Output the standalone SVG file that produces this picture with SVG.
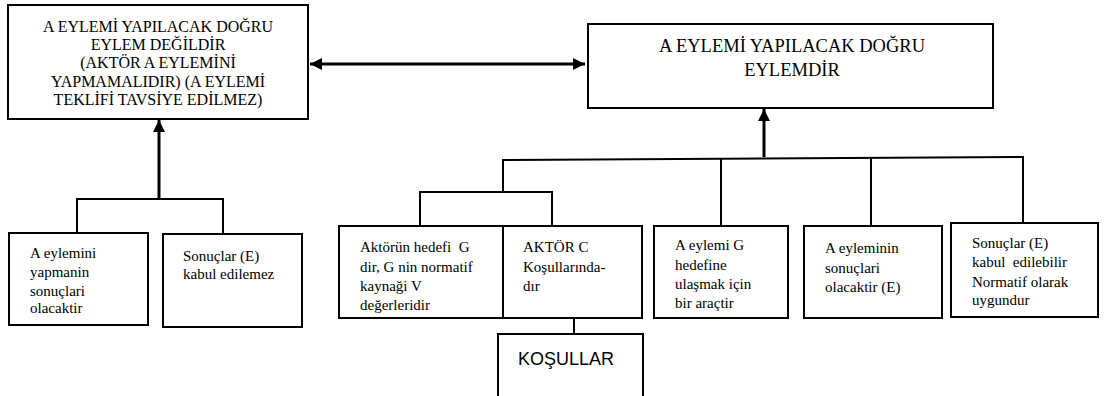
<svg xmlns="http://www.w3.org/2000/svg" width="1112" height="396" viewBox="0 0 1112 396">
<style>
.box{fill:#fff;stroke:#000;stroke-width:2}
.ln{fill:none;stroke:#000;stroke-width:2}
.th{fill:none;stroke:#000;stroke-width:3}
</style>
<defs>
<marker id="ah" viewBox="0 0 10 10" refX="10" refY="5" markerWidth="4.5" markerHeight="4" orient="auto-start-reverse" markerUnits="strokeWidth">
<path d="M0,0 L10,5 L0,10 Z" fill="#000"/>
</marker>
</defs>
<g id="connectors">
<line class="th" x1="310" y1="64" x2="585" y2="64" marker-start="url(#ah)" marker-end="url(#ah)"/>
<line class="th" x1="159" y1="199" x2="159" y2="120" marker-end="url(#ah)"/>
<polyline class="ln" points="77,233 77,199 223,199 223,233"/>
<line class="th" x1="764" y1="157" x2="764" y2="109" marker-end="url(#ah)"/>
<polyline class="ln" points="503,192 503,160 1023,157 1023,223"/>
<line class="ln" x1="721" y1="158" x2="721" y2="226"/>
<line class="ln" x1="871" y1="157" x2="871" y2="226"/>
<polyline class="ln" points="420,226 420,192 552,192 552,226"/>
<line class="ln" x1="574" y1="318" x2="574" y2="334"/>
</g>
<g font-family="Liberation Serif, 'Times New Roman', serif" fill="#000">
<g id="node-top-left" font-size="16" text-anchor="middle">
<rect class="box" x="8" y="5" width="300" height="114"/>
<text x="158" y="32">A EYLEMİ YAPILACAK DOĞRU</text>
<text x="158" y="50">EYLEM DEĞİLDİR</text>
<text x="158" y="68">(AKTÖR A EYLEMİNİ</text>
<text x="158" y="87">YAPMAMALIDIR) (A EYLEMİ</text>
<text x="158" y="105">TEKLİFİ TAVSİYE EDİLMEZ)</text>
</g>
<g id="node-top-right" font-size="18.5" text-anchor="middle">
<rect class="box" x="588" y="24" width="405" height="84"/>
<text x="792" y="52">A EYLEMİ YAPILACAK DOĞRU</text>
<text x="792" y="76">EYLEMDİR</text>
</g>
<g font-size="15">
<g id="node-a-eylemini">
<rect class="box" x="9" y="233" width="139" height="92"/>
<text x="30" y="258">A eylemini</text>
<text x="30" y="277">yapmanin</text>
<text x="30" y="296">sonuçlari</text>
<text x="30" y="313">olacaktir</text>
</g>
<g id="node-kabul-edilemez">
<rect class="box" x="163" y="234" width="139" height="93"/>
<text x="183" y="261">Sonuçlar (E)</text>
<text x="183" y="279">kabul edilemez</text>
</g>
<g id="node-aktorun-hedefi">
<rect class="box" x="339" y="226" width="164" height="92"/>
<text x="360" y="252" xml:space="preserve">Aktörün hedefi  G</text>
<text x="360" y="272">dir, G nin normatif</text>
<text x="360" y="291">kaynaği V</text>
<text x="360" y="310">değerleridir</text>
</g>
<g id="node-aktor-c">
<rect class="box" x="503" y="226" width="139" height="92"/>
<text x="523" y="252">AKTÖR C</text>
<text x="523" y="272">Koşullarında-</text>
<text x="523" y="291">dır</text>
</g>
<g id="node-arac">
<rect class="box" x="654" y="226" width="134" height="92"/>
<text x="675" y="250">A eylemi G</text>
<text x="675" y="270">hedefine</text>
<text x="675" y="289">ulaşmak için</text>
<text x="675" y="308">bir araçtir</text>
</g>
<g id="node-sonuclari">
<rect class="box" x="804" y="226" width="138" height="92"/>
<text x="825" y="253">A eyleminin</text>
<text x="825" y="273">sonuçlari</text>
<text x="825" y="292">olacaktir (E)</text>
</g>
<g id="node-kabul-edilebilir">
<rect class="box" x="951" y="223" width="147" height="94"/>
<text x="972" y="248">Sonuçlar (E)</text>
<text x="972" y="267" xml:space="preserve">kabul  edilebilir</text>
<text x="972" y="287">Normatif olarak</text>
<text x="972" y="305">uygundur</text>
</g>
</g>
</g>
<g id="node-kosullar">
<rect class="box" x="498" y="334" width="145" height="70"/>
<text x="518" y="365" font-family="Liberation Sans, Arial, sans-serif" font-size="18" fill="#000">KOŞULLAR</text>
</g>
</svg>
